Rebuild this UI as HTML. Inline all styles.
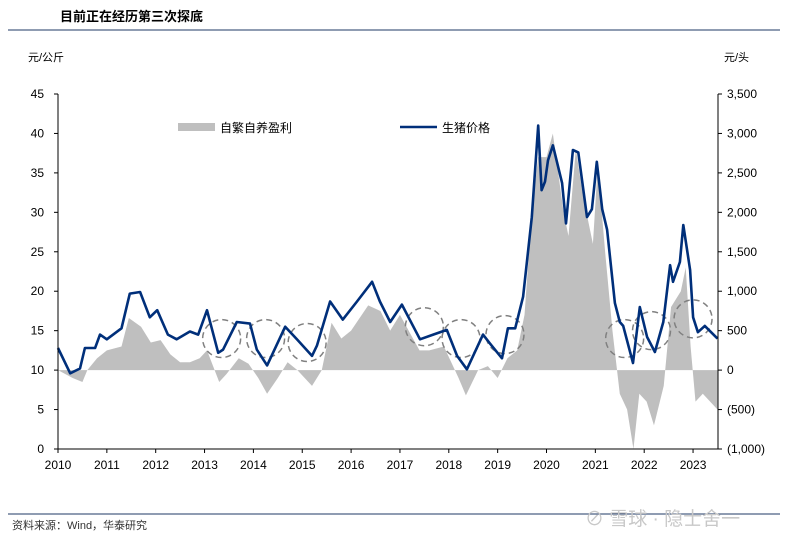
<!DOCTYPE html>
<html><head><meta charset="utf-8"><style>
body{margin:0;background:#fff;}
svg text{font-family:"Liberation Sans","Noto Sans CJK SC",sans-serif;}
</style></head><body>
<svg id="c" width="800" height="541" xmlns="http://www.w3.org/2000/svg">
<text x="60" y="21" font-size="13" font-weight="bold" fill="#000">目前正在经历第三次探底</text>
<line x1="8" y1="30" x2="780" y2="30" stroke="#1f3864" stroke-width="1"/>
<text x="28" y="61" font-size="11">元/公斤</text>
<text x="724" y="61" font-size="11">元/头</text>
<g id="plot"></g>
<line x1="8" y1="514" x2="780" y2="514" stroke="#1f3864" stroke-width="1"/>
<text x="12" y="529" font-size="11" fill="#333">资料来源：Wind，华泰研究</text>
<text x="585" y="525" font-size="19" fill="#c8c8c8">⊘ 雪球 · 隐士舍一</text>
</svg>
<script>
const priceX=[2010.0,2010.25,2010.45,2010.55,2010.76,2010.86,2011.0,2011.3,2011.47,2011.68,2011.88,2012.03,2012.25,2012.43,2012.7,2012.87,2013.05,2013.28,2013.38,2013.66,2013.93,2014.07,2014.28,2014.65,2014.89,2015.2,2015.3,2015.57,2015.83,2016.12,2016.43,2016.59,2016.8,2017.04,2017.41,2017.68,2017.96,2018.17,2018.37,2018.7,2018.84,2019.09,2019.21,2019.36,2019.52,2019.7,2019.83,2019.9,2019.97,2020.03,2020.13,2020.32,2020.4,2020.54,2020.65,2020.83,2020.93,2021.03,2021.14,2021.24,2021.4,2021.5,2021.57,2021.77,2021.91,2022.06,2022.22,2022.39,2022.53,2022.59,2022.73,2022.8,2022.94,2023.0,2023.1,2023.24,2023.5];
const priceY=[12.8,9.6,10.2,12.8,12.8,14.5,13.9,15.3,19.7,19.9,16.7,17.6,14.5,13.9,14.9,14.5,17.6,12.2,12.6,16.1,15.9,12.6,10.6,15.5,13.9,11.8,13.1,18.7,16.4,18.7,21.2,18.7,16.1,18.3,13.9,14.5,15.1,11.8,10.1,14.5,13.4,11.5,15.3,15.3,19.3,29.4,41,32.8,33.9,36.6,38.5,33.7,28.6,37.9,37.6,29.4,30.4,36.4,30.4,27.8,18.5,16.1,15.6,10.9,18,14.2,12.3,16.1,23.3,21.2,23.7,28.4,22.7,16.7,14.8,15.6,14];
const profitX=[2010.0,2010.3,2010.5,2010.6,2010.8,2011.0,2011.3,2011.45,2011.7,2011.9,2012.1,2012.3,2012.5,2012.7,2012.9,2013.05,2013.3,2013.45,2013.7,2013.9,2014.1,2014.28,2014.5,2014.7,2014.9,2015.2,2015.4,2015.6,2015.8,2016.0,2016.35,2016.6,2016.8,2017.0,2017.4,2017.6,2017.9,2018.2,2018.35,2018.6,2018.8,2019.0,2019.2,2019.4,2019.55,2019.7,2019.83,2020.0,2020.13,2020.35,2020.45,2020.6,2020.75,2020.95,2021.05,2021.2,2021.35,2021.5,2021.65,2021.78,2021.9,2022.05,2022.2,2022.4,2022.55,2022.75,2022.85,2022.95,2023.05,2023.2,2023.5];
const profitY=[0,-100,-150,0,150,250,300,660,550,350,380,200,100,100,150,250,-150,-50,150,80,-100,-300,-100,100,0,-200,0,600,400,500,820,750,500,700,250,250,300,-100,-320,0,50,-100,150,250,700,2000,2700,2700,3000,2000,1700,2800,2200,1600,2600,1500,500,-300,-500,-1000,-300,-400,-700,-200,800,1000,1300,300,-400,-300,-500];
const leftTicks=[0,5,10,15,20,25,30,35,40,45];
const rightTicks=[-1000,-500,0,500,1000,1500,2000,2500,3000,3500];
const rightLabels=["(1,000)","(500)","0","500","1,000","1,500","2,000","2,500","3,000","3,500"];
const years=[2010,2011,2012,2013,2014,2015,2016,2017,2018,2019,2020,2021,2022,2023];
const circleX=[2013.35,2014.25,2015.1,2017.5,2018.25,2019.15,2021.6,2022.15,2023.0];
const circleY=[14,14,13.5,15.5,14,14.5,14,15,16.5];

const X0=58,X1=718,YT=94,YB=449;
const xs=t=>X0+(t-2010)*48.85;
const yl=v=>YB-(v/45)*(YB-YT);
const yr=v=>YB-((v+1000)/4500)*(YB-YT);
const NS="http://www.w3.org/2000/svg";
const g=document.getElementById('plot');
function mk(tag,attrs){const e=document.createElementNS(NS,tag);for(const k in attrs)e.setAttribute(k,attrs[k]);g.appendChild(e);return e;}

// profit area
let d=`M${xs(profitX[0])},${yr(0)}`;
profitX.forEach((t,i)=>{d+=` L${xs(t)},${yr(profitY[i])}`;});
d+=` L${xs(profitX[profitX.length-1])},${yr(0)} Z`;
let a=mk('path',{d:d,fill:'#bfbfbf'});



// circles
circleX.forEach((t,i)=>{
 let c=mk('circle',{cx:xs(t),cy:yl(circleY[i]),r:19,fill:'none',stroke:'#808080','stroke-width':1.5,'stroke-dasharray':'6,4'});
 
 
});

// price line
let p=priceX.map((t,i)=>`${i?'L':'M'}${xs(t).toFixed(1)},${yl(priceY[i]).toFixed(1)}`).join(' ');
let ln=mk('path',{d:p,fill:'none',stroke:'#002f7a','stroke-width':2.6,'stroke-linejoin':'round'});



// axes
let ax=mk('path',{d:`M${X0},${YT} V${YB} H${X1} M${X1},${YT} V${YB}`,fill:'none',stroke:'#000','stroke-width':1});


leftTicks.forEach(v=>{
 mk('line',{x1:X0-4,x2:X0,y1:yl(v),y2:yl(v),stroke:'#000'});
 let t=mk('text',{x:X0-14,y:yl(v)+4,'font-size':12,'text-anchor':'end'});t.textContent=v;
 
 
});
rightTicks.forEach((v,i)=>{
 mk('line',{x1:X1,x2:X1+4,y1:yr(v),y2:yr(v),stroke:'#000'});
 let t=mk('text',{x:X1+9,y:yr(v)+4,'font-size':12});t.textContent=rightLabels[i];
 
 
});
years.forEach(y=>{
 mk('line',{x1:xs(y),x2:xs(y),y1:YB,y2:YB+4,stroke:'#000'});
 let t=mk('text',{x:xs(y),y:YB+20,'font-size':12,'text-anchor':'middle'});t.textContent=y;
 
 
});
// legend
let lr=mk('rect',{x:178,y:123,width:37,height:8,fill:'#bfbfbf'});


let lt=mk('text',{x:220,y:132,'font-size':12});lt.textContent='自繁自养盈利';


let ll=mk('line',{x1:400,x2:437,y1:127,y2:127,stroke:'#002f7a','stroke-width':2.6});


let lt2=mk('text',{x:442,y:132,'font-size':12});lt2.textContent='生猪价格';


</script>
</body></html>
